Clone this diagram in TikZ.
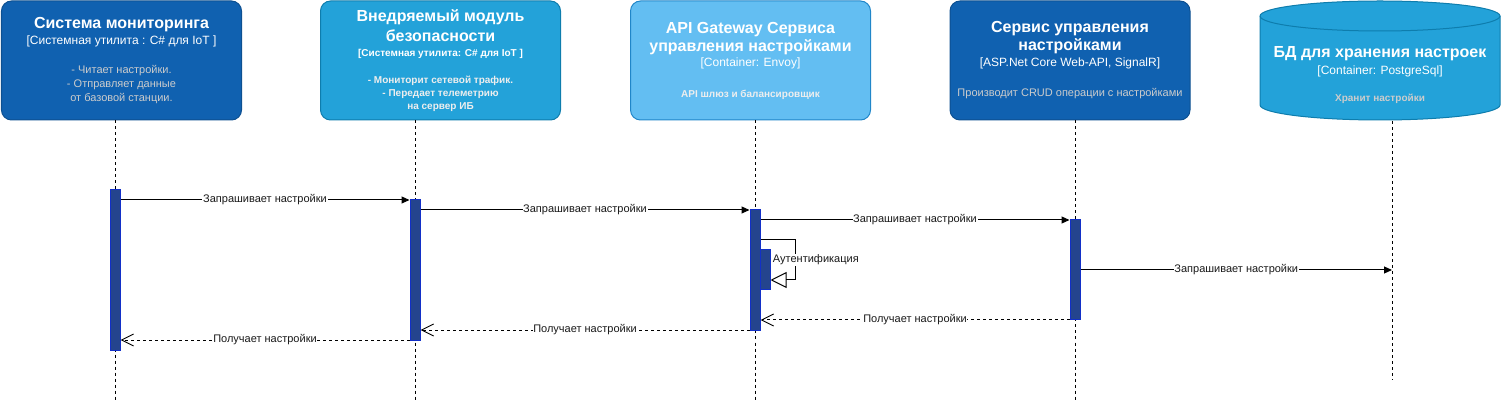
\documentclass[tikz,border=0pt]{standalone}
\usepackage{fontspec}
\setmainfont{Liberation Sans}
\usetikzlibrary{arrows.meta}

\definecolor{sysblue}{HTML}{1061B0}
\definecolor{sysblueline}{HTML}{0D5091}
\definecolor{contblue}{HTML}{23A2D9}
\definecolor{contblueline}{HTML}{0E7DAD}
\definecolor{compblue}{HTML}{63BEF2}
\definecolor{compblueline}{HTML}{2086C9}
\definecolor{barfill}{HTML}{24448E}
\definecolor{barline}{HTML}{1230C8}
\definecolor{descgray}{HTML}{CCCCCC}
\definecolor{desclight}{HTML}{EEEEEE}

\newcommand\boxttl{\fontsize{12}{13.5}\selectfont\bfseries}
\newcommand\boxtech{\fontsize{9}{12}\selectfont\mdseries}
\newcommand\boxdesc{\fontsize{8.25}{10.5}\selectfont}

\begin{document}
\begin{tikzpicture}[x=0.75pt, y=-0.75pt,
    sysbox/.style={rectangle, rounded corners=7.5pt, draw, line width=0.75pt,
        minimum width=180pt, minimum height=89.25pt, text width=176pt,
        inner sep=2pt, align=flush center, text=white},
    dbtext/.style={text width=176pt, inner sep=0pt, align=flush center, text=white},
    actbar/.style={rectangle, draw=barline, fill=barfill, line width=0.75pt,
        minimum width=7.5pt, inner sep=0pt},
    lifeline/.style={line width=0.75pt, dash pattern=on 2.25pt off 2.25pt},
    msgcall/.style={line width=0.75pt, -{Triangle[length=6pt, width=5.25pt]}},
    msgret/.style={line width=0.75pt, dash pattern=on 2.25pt off 2.25pt,
        -{Straight Barb[length=9pt, width=9pt]}},
    selfcall/.style={line width=0.75pt, -{Triangle[open, length=12pt, width=12pt]}},
    msglbl/.style={fill=white, inner sep=0.5pt, font=\fontsize{8.25}{10}\selectfont,
        text=black!90}
]
    % --- Participants ---
    \node[sysbox, fill=sysblue, draw=sysblueline] (mon) at (121.5,60.5) {%
        \boxttl Система мониторинга\par
        \boxtech [Системная утилита : C\# для IoT ]\par
        \vspace{11pt}
        \boxdesc\leavevmode\color{descgray}- Читает настройки.\\ - Отправляет данные\\ от базовой станции.\par};
    \node[sysbox, fill=contblue, draw=contblueline] (sec) at (440.5,60.5) {%
        \fontsize{12}{15}\selectfont\bfseries Внедряемый модуль\\ безопасности\par
        \fontsize{7.5}{11}\selectfont [Системная утилита: C\# для IoT ]\par
        \vspace{10.5pt}
        \fontsize{7.5}{9.75}\selectfont\leavevmode\color{desclight}- Мониторит сетевой трафик.\\ - Передает телеметрию\\ на сервер ИБ\par};
    \node[sysbox, fill=compblue, draw=compblueline] (gw) at (750.5,60.5) {%
        \boxttl API Gateway Сервиса\\ управления настройками\par
        \fontsize{9}{11.25}\selectfont\mdseries [Container: Envoy]\par
        \vspace{12pt}
        \fontsize{7.5}{11.25}\selectfont\bfseries\leavevmode\color{desclight}API шлюз и балансировщик\par};
    \node[sysbox, fill=sysblue, draw=sysblueline] (svc) at (1070,60.5) {%
        \boxttl Сервис управления\\ настройками\par
        \boxtech [ASP.Net Core Web-API, SignalR]\par
        \vspace{11.25pt}
        \fontsize{8.25}{11.25}\selectfont\leavevmode\color{descgray}Производит CRUD операции с настройками\par};

    % database cylinder
    \draw[fill=contblue, draw=contblueline, line width=0.75pt] (1260,16) -- (1260,105)
        arc[start angle=180, end angle=360, x radius=90pt, y radius=11.25pt] -- (1500,16)
        arc[start angle=0, end angle=180, x radius=90pt, y radius=11.25pt] -- cycle;
    \draw[contblueline, line width=0.75pt] (1260,16)
        arc[start angle=180, end angle=360, x radius=90pt, y radius=11.25pt];
    \node[dbtext] (db) at (1380,75) {%
        \boxttl БД для хранения настроек\par
        \fontsize{9}{12.75}\selectfont\mdseries [Container: PostgreSql]\par
        \vspace{10pt}
        \fontsize{7.5}{10.5}\selectfont\bfseries\leavevmode\color{descgray}Хранит настройки\par};

    % --- Lifelines ---
    \coordinate (monend) at (115,400);
    \coordinate (secend) at (415,400);
    \coordinate (gwend) at (755,400);
    \coordinate (svcend) at (1075,400);
    \coordinate (dbtop) at (1392,121);
    \coordinate (dbend) at (1392,380);
    \draw[lifeline] (mon.south -| monend) -- (monend);
    \draw[lifeline] (sec.south -| secend) -- (secend);
    \draw[lifeline] (gw.south -| gwend) -- (gwend);
    \draw[lifeline] (svc.south -| svcend) -- (svcend);
    \draw[lifeline] (dbtop) -- (dbend);

    % --- Activations ---
    \node[actbar, minimum height=120pt] (act1) at (115,270) {};
    \node[actbar, minimum height=105pt] (act2) at (415,270) {};
    \node[actbar, minimum height=90pt] (act3) at (755,270) {};
    \node[actbar, minimum height=30pt] (act3b) at (765,270) {};
    \node[actbar, minimum height=75pt] (act4) at (1075,270) {};

    % --- Requests ---
    \draw[msgcall] (act1.east |- 0,200) -- (act2.west |- 0,200)
        node[msglbl, midway] (m1) {Запрашивает настройки};
    \draw[msgcall] (act2.east |- 0,210) -- (act3.west |- 0,210)
        node[msglbl, midway] (m2) {Запрашивает настройки};
    \draw[msgcall] (act3.east |- 0,220) -- (act4.west |- 0,220)
        node[msglbl, midway] (m3) {Запрашивает настройки};
    \coordinate (authturn) at (795,280);
    \draw[selfcall] (act3.east |- 0,240) -| (authturn) -- (act3b.east |- authturn);
    \node[msglbl, anchor=west] (authlbl) at (772,260) {Аутентификация};
    \coordinate (dbin) at (1392,270);
    \draw[msgcall] (act4.east |- dbin) -- (dbin)
        node[msglbl, midway] (m4) {Запрашивает настройки};

    % --- Responses ---
    \draw[msgret] (act4.west |- 0,320) -- (act3.east |- 0,320)
        node[msglbl, midway] (r1) {Получает настройки};
    \draw[msgret] (act3.west |- 0,330) -- (act2.east |- 0,330)
        node[msglbl, midway] (r2) {Получает настройки};
    \draw[msgret] (act2.west |- 0,340) -- (act1.east |- 0,340)
        node[msglbl, midway] (r3) {Получает настройки};

    \useasboundingbox (0,0) rectangle (1501,402);
\end{tikzpicture}
\end{document}
